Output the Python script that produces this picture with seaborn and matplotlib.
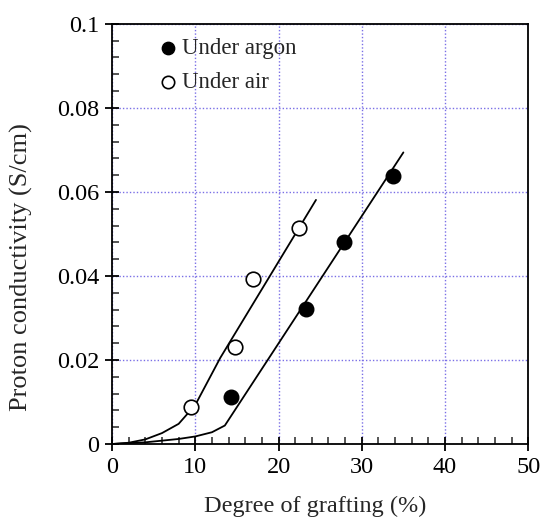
import matplotlib
matplotlib.use("Agg")
import matplotlib.pyplot as plt
from matplotlib.ticker import MultipleLocator
import seaborn as sns

# Measured points
argon_x = [14.3, 23.3, 27.9, 33.7]
argon_y = [0.0111, 0.0321, 0.0482, 0.0637]
air_x = [9.5, 14.8, 16.9, 22.5]
air_y = [0.0089, 0.0232, 0.0392, 0.0514]

# Fitted curves
argon_fit_x = [0, 4, 8, 10, 12, 13.55, 35.0]
argon_fit_y = [0.0, 0.0004, 0.0012, 0.0018, 0.0028, 0.0044, 0.0694]
air_fit_x = [0, 2, 4, 6, 8, 10, 13.0, 24.5]
air_fit_y = [0.0, 0.0003, 0.0011, 0.0026, 0.0048, 0.0093, 0.0205, 0.0581]

x_ticks = [0, 10, 20, 30, 40, 50]
y_ticks = [0, 0.02, 0.04, 0.06, 0.08, 0.1]
y_tick_labels = ["0", "0.02", "0.04", "0.06", "0.08", "0.1"]

sns.set_style("white")
plt.rcParams["font.family"] = ["Liberation Serif", "DejaVu Serif"]

fig = plt.figure(figsize=(5.44, 5.19), dpi=100)
ax = fig.add_axes([0.206, 0.1445, 0.765, 0.8095])

sns.lineplot(x=argon_fit_x, y=argon_fit_y, ax=ax, color="black", lw=1.3, sort=False, zorder=2)
sns.lineplot(x=air_fit_x, y=air_fit_y, ax=ax, color="black", lw=1.3, sort=False, zorder=2)

sns.scatterplot(x=argon_x, y=argon_y, ax=ax, s=110, color="black", edgecolor="black",
                linewidth=1.0, label="Under argon", zorder=3)
sns.scatterplot(x=air_x, y=air_y, ax=ax, s=110, facecolor="white", edgecolor="black",
                linewidth=1.2, label="Under air", zorder=3)

ax.set_xlim(0, 50)
ax.set_ylim(0, 0.1)
ax.set_xticks(x_ticks)
ax.set_yticks(y_ticks)
ax.set_yticklabels(y_tick_labels)
ax.xaxis.set_minor_locator(MultipleLocator(2))
ax.yaxis.set_minor_locator(MultipleLocator(0.004))

ax.grid(True, which="major", color="#7a6fe6", linestyle=(0, (1, 1.5)), linewidth=1.0)
ax.set_axisbelow(True)

for s in ax.spines.values():
    s.set_visible(True)
    s.set_color("black")
    s.set_linewidth(1.3)

ax.tick_params(axis="both", which="major", direction="inout", length=10, width=1.3,
               labelsize=17.5, colors="black", pad=4, bottom=True, left=True, top=False, right=False)
ax.tick_params(axis="both", which="minor", direction="in", length=5, width=1.1,
               bottom=True, left=True, top=False, right=False)

ax.set_xlabel("Degree of grafting (%)", fontsize=17.5)
ax.set_ylabel("Proton conductivity (S/cm)", fontsize=19)
ax.xaxis.set_label_coords(0.488, -0.124)
ax.yaxis.set_label_coords(-0.19, 0.42)

leg = ax.legend(loc="upper left", bbox_to_anchor=(0.113, 0.966), frameon=False, fontsize=16.5,
                handlelength=0.8, handletextpad=0.2, labelspacing=0.57, borderaxespad=0.0,
                borderpad=0.0, markerscale=0.85)

fig.savefig("out.png", dpi=100)
